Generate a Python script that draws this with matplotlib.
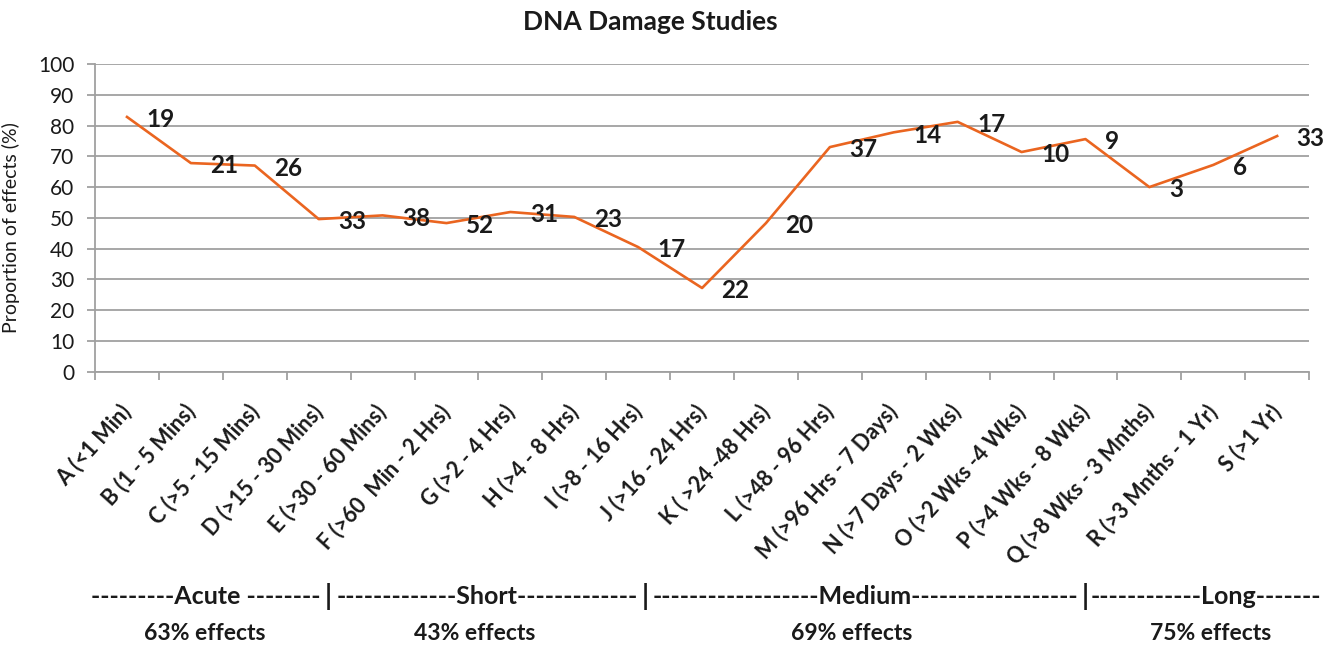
import numpy as np
import matplotlib.pyplot as plt

# category labels (x axis) and proportion of effects (%)
categories = ['A (<1 Min)', 'B (1 - 5 Mins)', 'C (>5 - 15 Mins)', 'D (>15 - 30 Mins)',
              'E (>30 - 60 Mins)', 'F (>60  Min - 2 Hrs)', 'G (>2 - 4 Hrs)', 'H (>4 - 8 Hrs)',
              'I (>8 - 16 Hrs)', 'J (>16 - 24 Hrs)', 'K ( >24 -48 Hrs)', 'L (>48 - 96 Hrs)',
              'M (>96 Hrs - 7 Days)', 'N (>7 Days - 2 Wks)', 'O (>2 Wks -4 Wks)', 'P (>4 Wks - 8 Wks)',
              'Q (>8 Wks - 3 Mnths)', 'R (>3 Mnths - 1 Yr)', 'S (>1 Yr)']
proportion = [82.8, 67.8, 67.0, 49.6, 50.8, 48.3, 51.9, 50.3, 40.5, 27.2,
              48.3, 73.0, 77.8, 81.2, 71.4, 75.6, 60.0, 67.2, 76.6]
n_studies = [19, 21, 26, 33, 38, 52, 31, 23, 17, 22, 20, 37, 14, 17, 10, 9, 3, 6, 33]

# duration groups shown under the axis
groups = ['Acute', 'Short', 'Medium', 'Long']
group_effects = [63, 43, 69, 75]
dashes = [(9, 8), (13, 13), (18, 18), (12, 7)]

plt.rcParams['font.family'] = ['Lato', 'DejaVu Sans']

fig = plt.figure(figsize=(13.35, 6.48), dpi=100)
ax = fig.add_axes([0.0712, 0.4264, 0.9094, 0.4748])

x = np.arange(len(categories))
ax.plot(x, proportion, color='#EA6520', lw=1.9, zorder=3)

for xi, yi, n in zip(x, proportion, n_studies):
    ax.annotate(str(n), (xi, yi), xytext=(14, -2), textcoords='offset points',
                ha='left', va='center', fontsize=17.5, fontweight='bold', color='#1a1a1a')

ax.set_xlim(-0.5, len(categories) - 0.5)
ax.set_ylim(0, 100)
ax.set_yticks(np.arange(0, 101, 10))
ax.yaxis.grid(True, color='#a0a0a0', lw=1.3)
ax.set_axisbelow(True)

ax.set_xticks(x)
ax.set_xticklabels(categories, rotation=48, ha='right', va='center', rotation_mode='anchor',
                   fontsize=15.5, fontweight='bold', color='#1a1a1a')
ax.set_xticks(np.arange(-0.5, len(categories)), minor=True)
ax.tick_params(axis='x', which='major', length=0, pad=26)
ax.tick_params(axis='x', which='minor', length=6, width=1.3, color='#a0a0a0')
ax.tick_params(axis='y', length=6, width=1.3, color='#a0a0a0', labelsize=15, labelcolor='#1a1a1a', pad=9)

for s in ['top', 'right']:
    ax.spines[s].set_visible(False)
for s in ['left', 'bottom']:
    ax.spines[s].set_color('#a0a0a0')
    ax.spines[s].set_linewidth(1.3)

ax.set_ylabel('Proportion of effects (%)', fontsize=14, color='#1a1a1a', labelpad=4)
ax.yaxis.set_label_coords(-0.062, 0.47)
fig.text(0.487, 0.966, 'DNA Damage Studies', ha='center', va='center',
         fontsize=19, fontweight='bold', color='#1a1a1a')

# group header line and effect percentages below the chart
seg_centers = [206, 487, 865, 1206]
seps = [328, 645, 1085]
eff_centers = [205, 475, 852, 1211]
W, H = 1335, 648
for g, (a, b), cx, ex, pct in zip(groups, dashes, seg_centers, eff_centers, group_effects):
    sp = ' ' if g == 'Acute' else ''
    label = '-' * a + g + sp + '-' * b
    fig.text(cx / W, 1 - 597 / H, label, ha='center', va='center',
             fontsize=18, fontweight='bold', color='#1a1a1a')
    fig.text(ex / W, 1 - 633 / H, f'{pct}% effects', ha='center', va='center',
             fontsize=16.5, fontweight='bold', color='#1a1a1a')
for sx in seps:
    fig.text(sx / W, 1 - 597 / H, '|', ha='center', va='center',
             fontsize=20, fontweight='bold', color='#1a1a1a')

fig.savefig('out.png', dpi=100)
